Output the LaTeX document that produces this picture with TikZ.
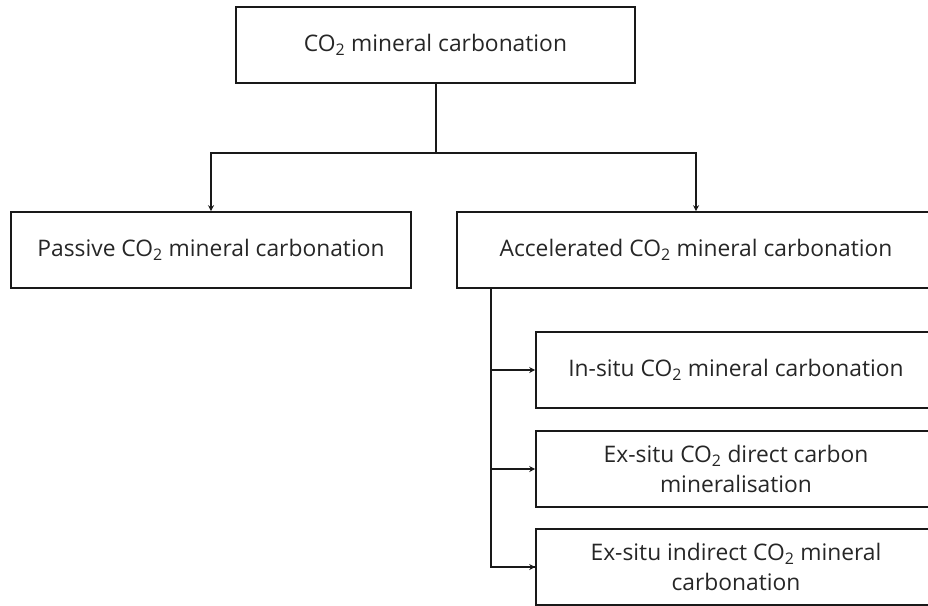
\documentclass[tikz,border=0pt]{standalone}
\usepackage{fontspec}
\setmainfont{Open Sans}
\usetikzlibrary{arrows.meta}
\tikzset{
  box/.style={draw=black!90, line width=1.6pt, rectangle, minimum height=76pt,
    text=black!85, font=\fontsize{22.8}{30}\selectfont, align=center, inner sep=0pt},
  link/.style={draw=black!90, line width=2pt},
  arr/.style={link, -{Stealth[length=6pt,width=6pt]}}
}
\newcommand{\COtwo}{CO\textsubscript{2}}
\begin{document}
\begin{tikzpicture}[x=1pt,y=-1pt]
  \useasboundingbox (0,0) rectangle (928,605);
  \clip (0,0) rectangle (928,605);
  % boxes
  \node[box, minimum width=399pt] (top) at (435.5,45) {\COtwo{} mineral carbonation};
  \node[box, minimum width=400pt] (pas) at (211,250) {Passive \COtwo{} mineral carbonation};
  \node[box, minimum width=478pt] (acc) at (696,250) {Accelerated \COtwo{} mineral carbonation};
  \node[box, minimum width=400pt] (ins) at (736,370) {In-situ \COtwo{} mineral carbonation};
  \node[box, minimum width=400pt] (dir) at (736,469) {Ex-situ \COtwo{} direct carbon\\mineralisation};
  \node[box, minimum width=400pt] (ind) at (736,567) {Ex-situ indirect \COtwo{} mineral\\carbonation};
  % first level split
  \draw[link] (top.south) -- ++(0,69) coordinate (split);
  \draw[arr] (split) -| (pas.north);
  \draw[arr] (split) -| (acc.north);
  % branches below the accelerated route
  \coordinate (trunk) at ([xshift=35pt]acc.south west);
  \draw[link] (trunk) |- (ind.west);
  \draw[arr] (trunk) |- (ins.west);
  \draw[arr] (trunk) |- (dir.west);
  \draw[arr] (trunk) |- (ind.west);
\end{tikzpicture}
\end{document}
